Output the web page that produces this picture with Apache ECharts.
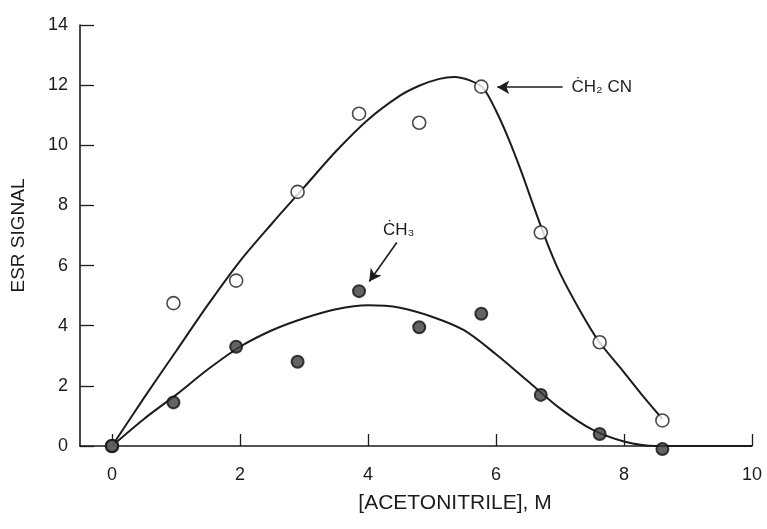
<!DOCTYPE html>
<html>
<head>
<meta charset="utf-8">
<script src="https://cdn.jsdelivr.net/npm/echarts@6/dist/echarts.min.js"></script>
<style>
html, body { margin: 0; padding: 0; background: #fff; }
#chart { width: 767px; height: 529px; }
</style>
</head>
<body>
<div id="chart"></div>
<script>
const concX = [0, 0.96, 1.94, 2.9, 3.86, 4.8, 5.77, 6.7, 7.62, 8.6]
const ch2cnVals = [0, 4.75, 5.5, 8.45, 11.05, 10.75, 11.95, 7.1, 3.45, 0.85]
const ch3Vals = [0, 1.45, 3.3, 2.8, 5.15, 3.95, 4.4, 1.7, 0.4, -0.1]

// fitted curves drawn through the data
const ch2cnCurveX = [0, 0.5, 1, 1.5, 2, 2.5, 3, 3.5, 4, 4.5, 4.8, 5.1, 5.35, 5.6, 5.8, 6.0, 6.2, 6.4, 6.6, 6.8, 7.0, 7.3, 7.6, 8.0, 8.3, 8.6]
const ch2cnCurveY = [0, 1.6, 3.15, 4.7, 6.15, 7.4, 8.6, 9.8, 10.85, 11.65, 11.98, 12.2, 12.27, 12.15, 11.9, 11.15, 10.2, 9.1, 7.9, 6.75, 5.75, 4.55, 3.5, 2.45, 1.65, 0.9]
const ch3CurveX = [0, 0.5, 1, 1.5, 2, 2.5, 3, 3.5, 4, 4.5, 5, 5.5, 6, 6.5, 7, 7.5, 8, 8.5, 9, 10]
const ch3CurveY = [0, 0.9, 1.7, 2.55, 3.3, 3.85, 4.25, 4.55, 4.68, 4.6, 4.3, 3.85, 3.05, 2.15, 1.25, 0.55, 0.15, 0, 0, 0]

const xTicks = [0, 2, 4, 6, 8, 10]

const FONT = '"Liberation Sans", Arial, Helvetica, sans-serif'
const INK = '#1c1c1c'

const zip = (xs, ys) => xs.map((x, i) => [x, ys[i]])

const chart = echarts.init(document.getElementById('chart'))
const option = {
    animation: false,
    backgroundColor: '#fff',
    grid: {
        left: 80,
        right: 15,
        top: 25,
        bottom: 83,
        containLabel: false,
        outerBoundsMode: 'none'
    },
    xAxis: {
        type: 'value',
        min: -0.5,
        max: 10,
        name: '[ACETONITRILE], M',
        nameLocation: 'middle',
        nameGap: 47,
        nameTextStyle: {
            fontFamily: FONT,
            fontSize: 21,
            color: INK,
            padding: [0, 0, 0, 78]
        },
        axisLine: { onZero: false, lineStyle: { color: INK, width: 1.6 } },
        axisTick: {
            inside: true,
            length: 12,
            customValues: xTicks,
            lineStyle: { color: INK, width: 1.3 }
        },
        axisLabel: {
            customValues: xTicks,
            margin: 20,
            fontFamily: FONT,
            fontSize: 18,
            color: INK
        },
        splitLine: { show: false }
    },
    yAxis: {
        type: 'value',
        min: 0,
        max: 14,
        interval: 2,
        name: 'ESR SIGNAL',
        nameLocation: 'middle',
        nameGap: 52,
        nameTextStyle: {
            fontFamily: FONT,
            fontSize: 19,
            color: INK
        },
        axisLine: { show: true, onZero: false, lineStyle: { color: INK, width: 1.6 } },
        axisTick: {
            show: true,
            inside: true,
            length: 14,
            lineStyle: { color: INK, width: 1.3 }
        },
        axisLabel: {
            margin: 12,
            fontFamily: FONT,
            fontSize: 18,
            color: INK
        },
        splitLine: { show: false }
    },
    series: [
        {
            name: 'ch2cn fit',
            type: 'line',
            data: zip(ch2cnCurveX, ch2cnCurveY),
            smooth: 0.3,
            showSymbol: false,
            lineStyle: { color: INK, width: 2 },
            z: 2,
            markLine: {
                silent: true,
                symbol: ['none', 'arrow'],
                symbolSize: [10, 12],
                lineStyle: { color: INK, width: 1.6, type: 'solid' },
                label: { show: false },
                data: [
                    [{ coord: [7.04, 11.93] }, { coord: [6.02, 11.93] }],
                    [{ coord: [4.45, 6.77] }, { coord: [4.02, 5.47] }]
                ]
            },
            markPoint: {
                silent: true,
                symbol: 'circle',
                symbolSize: 0,
                label: {
                    show: true,
                    fontFamily: FONT,
                    fontSize: 17,
                    color: INK
                },
                data: [
                    {
                        coord: [7.18, 11.93],
                        label: { position: 'right', distance: 0, formatter: 'C\u0307H\u2082 CN' }
                    },
                    {
                        coord: [4.48, 7.17],
                        label: { position: 'inside', formatter: 'C\u0307H\u2083' }
                    }
                ]
            }
        },
        {
            name: 'ch3 fit',
            type: 'line',
            data: zip(ch3CurveX, ch3CurveY),
            smooth: 0.3,
            showSymbol: false,
            lineStyle: { color: INK, width: 2 },
            z: 2
        },
        {
            name: 'CH2CN',
            type: 'scatter',
            data: zip(concX, ch2cnVals),
            symbol: 'circle',
            symbolSize: 13,
            clip: false,
            itemStyle: { color: '#fff', borderColor: INK, borderWidth: 1.6 },
            z: 4
        },
        {
            name: 'CH3',
            type: 'scatter',
            data: zip(concX, ch3Vals),
            symbol: 'circle',
            symbolSize: 12,
            clip: false,
            itemStyle: { color: '#3c3c3c', borderColor: '#111', borderWidth: 2 },
            z: 5
        }
    ]
}
chart.setOption(option)
</script>
</body>
</html>
